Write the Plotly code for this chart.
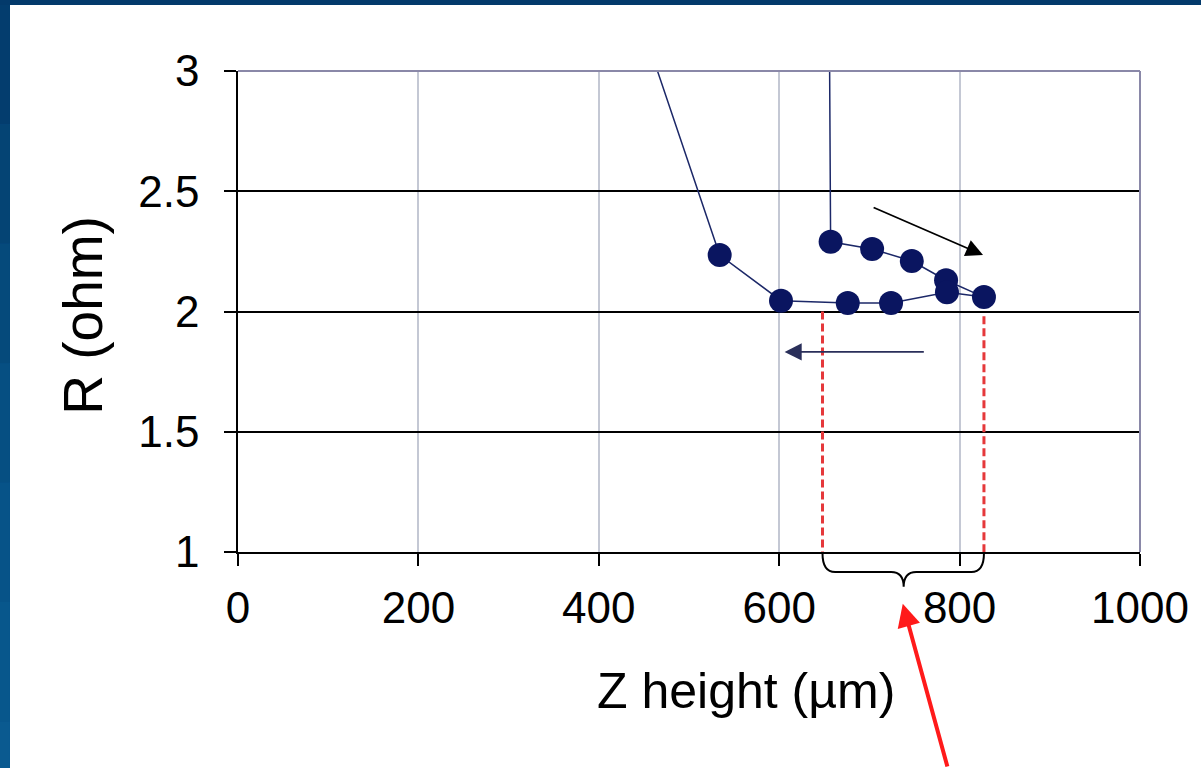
import plotly.graph_objects as go

# ---- data ----
z_height = [655, 657, 703, 747, 785, 827, 786, 724, 676, 602, 534, 420]
resistance = [3.6, 2.29, 2.26, 2.21, 2.13, 2.06, 2.08, 2.035, 2.035, 2.045, 2.235, 3.5]
x_ticks = [0, 200, 400, 600, 800, 1000]
y_ticks = [1, 1.5, 2, 2.5, 3]
window_edges = [648, 827]   # dashed red markers of the working window
x_range = [0, 1000]
y_range = [1, 3]

FONT = "Liberation Sans, Arial, sans-serif"
NAVY = "#0a1560"

fig = go.Figure()
fig.add_trace(go.Scatter(
    x=z_height, y=resistance, mode="lines+markers",
    line=dict(color="#1c2868", width=1.5),
    marker=dict(size=24, color=NAVY),
    cliponaxis=True, showlegend=False, hoverinfo="skip"))


def px_x(x):
    return (x - x_range[0]) / (x_range[1] - x_range[0])


def px_y(y):
    return (y - y_range[0]) / (y_range[1] - y_range[0])


shapes = []
# white slide area over the blue frame
shapes.append(dict(type="rect", xref="paper", yref="paper", x0=-0.2528, x1=1.2,
                   y0=-0.6, y1=1.137, fillcolor="white", line=dict(width=0), layer="below"))
# top band darker
shapes.append(dict(type="rect", xref="paper", yref="paper", x0=-0.3, x1=1.2,
                   y0=1.137, y1=1.3, fillcolor="#033a6b", line=dict(width=0), layer="below"))
# left band gradient
left_cols = ["#033d6e", "#044474", "#054a7b", "#064f82", "#075388", "#08578c", "#0a5a90"]
n = len(left_cols)
for i, c in enumerate(left_cols):
    y1 = 1.137 - i * (1.137 + 0.6) / n
    y0 = 1.137 - (i + 1) * (1.137 + 0.6) / n
    shapes.append(dict(type="rect", xref="paper", yref="paper", x0=-0.3, x1=-0.2528,
                       y0=y0, y1=y1, fillcolor=c, line=dict(width=0), layer="below"))

# top and right frame of plot area
shapes.append(dict(type="line", xref="paper", yref="paper", x0=0, x1=1, y0=1, y1=1,
                   line=dict(color="#8a88a8", width=2)))
shapes.append(dict(type="line", xref="paper", yref="paper", x0=1, x1=1, y0=0, y1=1,
                   line=dict(color="#8a88a8", width=2)))

# red dashed window lines
tops = [2.0, 1.98]
for xe, yt in zip(window_edges, tops):
    shapes.append(dict(type="line", xref="x", yref="y", x0=xe, x1=xe, y0=yt, y1=1.0,
                       line=dict(color="#e5383b", width=3, dash="8px,4px")))

# curly brace below the axis
x0b, x1b = window_edges
xt = 738
d = 14
yt_, ym, ytip = px_y(0.995), px_y(0.917), px_y(0.855)
path = (f"M {px_x(x0b)},{yt_} Q {px_x(x0b)},{ym} {px_x(x0b + d)},{ym} "
        f"L {px_x(xt - d)},{ym} Q {px_x(xt)},{ym} {px_x(xt)},{ytip} "
        f"Q {px_x(xt)},{ym} {px_x(xt + d)},{ym} "
        f"L {px_x(x1b - d)},{ym} Q {px_x(x1b)},{ym} {px_x(x1b)},{yt_}")
shapes.append(dict(type="path", xref="paper", yref="paper", path=path,
                   line=dict(color="black", width=2)))

annotations = [
    # axis titles
    dict(text="Z height (µm)", xref="paper", yref="paper", x=0.563, y=-0.29,
         showarrow=False, font=dict(family=FONT, size=50, color="black"),
         xanchor="center", yanchor="middle"),
    dict(text="R (ohm)", xref="paper", yref="paper", x=-0.172, y=0.493, textangle=-90,
         showarrow=False, font=dict(family=FONT, size=55, color="black"),
         xanchor="center", yanchor="middle"),
    # direction arrows
    dict(x=826, y=2.235, ax=703, ay=2.435, xref="x", yref="y", axref="x", ayref="y",
         text="", showarrow=True, arrowhead=2, arrowsize=1.9, arrowwidth=1.8,
         arrowcolor="black"),
    dict(x=606, y=1.832, ax=762, ay=1.832, xref="x", yref="y", axref="x", ayref="y",
         text="", showarrow=True, arrowhead=2, arrowsize=1.9, arrowwidth=1.8,
         arrowcolor="#2a2f5a"),
    # red pointer (paper-anchored so it is not hidden outside the axis range)
    dict(x=px_x(737), y=px_y(0.785), ax=45, ay=172, xref="paper", yref="paper",
         axref="pixel", ayref="pixel",
         text="", showarrow=True, arrowhead=2, arrowsize=1.15, arrowwidth=4,
         arrowcolor="#ff1a1a"),
]

fig.update_layout(
    width=1201, height=768,
    margin=dict(l=238, r=61, t=71, b=216, pad=0),
    paper_bgcolor="#064a82", plot_bgcolor="rgba(0,0,0,0)",
    shapes=shapes, annotations=annotations, showlegend=False,
    xaxis=dict(range=x_range, tickvals=x_ticks, ticktext=[str(v) for v in x_ticks],
               showgrid=True, gridcolor="#c4c8d4", gridwidth=1.5, zeroline=False,
               showline=True, linecolor="black", linewidth=1.5,
               ticks="outside", ticklen=12, tickwidth=1.5, tickcolor="black",
               ticklabelstandoff=4,
               tickfont=dict(family=FONT, size=44, color="black")),
    yaxis=dict(range=y_range, tickvals=y_ticks, ticktext=["1", "1.5", "2", "2.5", "3"],
               showgrid=True, gridcolor="black", gridwidth=1.5, zeroline=False,
               showline=True, linecolor="black", linewidth=1.5,
               ticks="outside", ticklen=12, tickwidth=1.5, tickcolor="black",
               ticklabelstandoff=16,
               tickfont=dict(family=FONT, size=44, color="black")),
)

fig.write_html("out.html")
